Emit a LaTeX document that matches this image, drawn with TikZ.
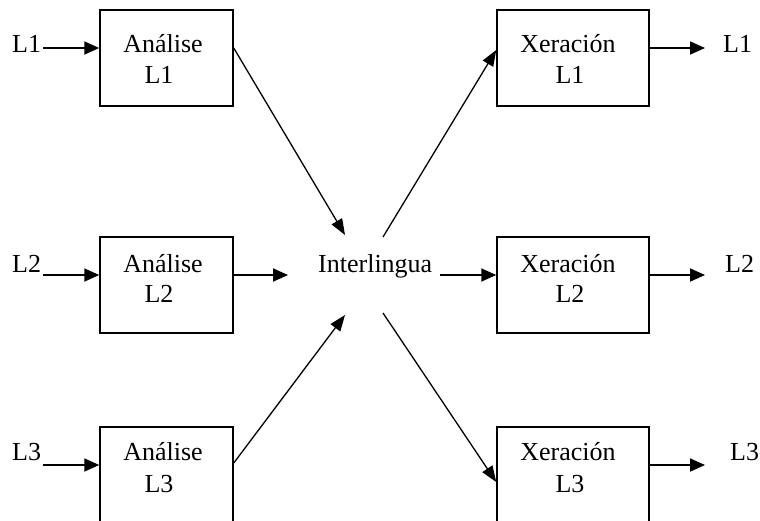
\documentclass[tikz,border=0pt]{standalone}
\usepackage{fontspec}
\setmainfont{Liberation Serif}
\usetikzlibrary{arrows.meta,calc}
\begin{document}
\begin{tikzpicture}[x=1pt,y=-1pt,
  txt/.style={font=\fontsize{26}{31}\selectfont, inner sep=0pt},
  box/.style={draw, line width=1.5pt, minimum height=96pt, inner sep=0pt},
  abox/.style={box, minimum width=133pt},
  xbox/.style={box, minimum width=152pt},
  harr/.style={line width=1.8pt, -{Triangle[length=15pt,width=13pt]}},
  darr/.style={line width=1.3pt, -{Triangle[length=16pt,width=12pt]}}]
\useasboundingbox (0,0) rectangle (760,520);
\clip (0,0) rectangle (760,520);
% boxes
\node[abox] (a1) at (166.5,58) {};
\node[abox] (a2) at (166.5,285) {};
\node[abox] (a3) at (166.5,475) {};
\node[xbox] (x1) at (573,58) {};
\node[xbox] (x2) at (573,285) {};
\node[xbox] (x3) at (573,475) {};
% box texts
\node[txt, anchor=base] (a1t) at (163,52) {Análise};
\node[txt, anchor=base] (a1l) at (159,83) {L1};
\node[txt, anchor=base] (a2t) at (163,272) {Análise};
\node[txt, anchor=base] (a2l) at (159,302) {L2};
\node[txt, anchor=base] (a3t) at (163,460) {Análise};
\node[txt, anchor=base] (a3l) at (159,492) {L3};
\node[txt, anchor=base] (x1t) at (568,52) {Xeración};
\node[txt, anchor=base] (x1l) at (570,83) {L1};
\node[txt, anchor=base] (x2t) at (568,272) {Xeración};
\node[txt, anchor=base] (x2l) at (570,302) {L2};
\node[txt, anchor=base] (x3t) at (568,460) {Xeración};
\node[txt, anchor=base] (x3l) at (570,492) {L3};
% centre
\node[txt, anchor=base west] (il) at (318,272) {Interlingua};
% outer labels
\node[txt, anchor=base west] (in1) at (12,52) {L1};
\node[txt, anchor=base west] (in2) at (12,272) {L2};
\node[txt, anchor=base west] (in3) at (12,460) {L3};
\node[txt, anchor=base west] (out1) at (723,52) {L1};
\node[txt, anchor=base west] (out2) at (725,272) {L2};
\node[txt, anchor=base west] (out3) at (730,460) {L3};
% input arrows
\coordinate (s1) at (43,48);
\coordinate (s2) at (43,275);
\coordinate (s3) at (43,465);
\draw[harr] (s1) -- (s1 -| a1.west);
\draw[harr] (s2) -- (s2 -| a2.west);
\draw[harr] (s3) -- (s3 -| a3.west);
% analise L2 -> interlingua, interlingua -> xeracion L2
\coordinate (a2o) at (288,275);
\draw[harr] (a2.east |- a2o) -- (a2o);
\coordinate (ilo) at (440,275);
\draw[harr] (ilo) -- (ilo -| x2.west);
% output arrows
\coordinate (o1) at (705,48);
\coordinate (o2) at (705,275);
\coordinate (o3) at (705,465);
\draw[harr] (x1.east |- o1) -- (o1);
\draw[harr] (x2.east |- o2) -- (o2);
\draw[harr] (x3.east |- o3) -- (o3);
% diagonals
\coordinate (t1) at (345,235);
\coordinate (t3) at (345,315);
\coordinate (u1) at (383,237);
\coordinate (u3) at (383,313);
\draw[darr] (a1.east |- s1) -- (t1);
\draw[darr] ($(a3.east)+(0,-12)$) -- (t3);
\draw[darr] (u1) -- ($(x1.west)+(0,-8)$);
\draw[darr] (u3) -- ($(x3.west)+(0,7)$);
\end{tikzpicture}
\end{document}
